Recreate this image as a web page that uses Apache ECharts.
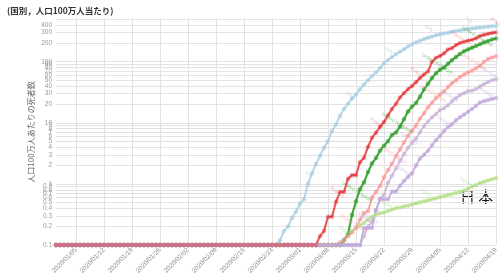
<!DOCTYPE html>
<html><head><meta charset="utf-8">
<script src="https://cdn.jsdelivr.net/npm/echarts@6/dist/echarts.min.js"></script>
<style>html,body{margin:0;padding:0;background:#fff}#c{width:500px;height:277px}</style>
</head><body><div id="c"></div>
<script>
// categories: 2019/12/31 .. 2020/04/19 (daily)
const monthDays = [["2020/01", 31], ["2020/02", 29], ["2020/03", 31], ["2020/04", 19]];
const dates = ["2019/12/31"];
for (const [m, n] of monthDays) {
  for (let d = 1; d <= n; d++) dates.push(m + "/" + String(d).padStart(2, "0"));
}

// deaths per million (values below 0.1 drawn at 0.1)
const italy = [0.1,0.1,0.1,0.1,0.1,0.1,0.1,0.1,0.1,0.1, 0.1,0.1,0.1,0.1,0.1,0.1,0.1,0.1,0.1,0.1, 0.1,0.1,0.1,0.1,0.1,0.1,0.1,0.1,0.1,0.1, 0.1,0.1,0.1,0.1,0.1,0.1,0.1,0.1,0.1,0.1, 0.1,0.1,0.1,0.1,0.1,0.1,0.1,0.1,0.1,0.1, 0.1,0.1,0.1,0.1,0.1,0.1,
  0.12,0.17,0.2,0.28,0.35,0.48,0.56,1.0,1.5,2.1,2.9,3.9,5.0,7.3,9.4,13.0,16.8,20.5,25,29,35.5,42.5,49.5,58.5,67,79,94,107,119,133,146,160,177,193,207,220,234,246,258,270,281,290,299,308,317,326,334,342,349,356,362,368,374,380,385];
const japan = [0.1,0.1,0.1,0.1,0.1,0.1,0.1,0.1,0.1,0.1, 0.1,0.1,0.1,0.1,0.1,0.1,0.1,0.1,0.1,0.1, 0.1,0.1,0.1,0.1,0.1,0.1,0.1,0.1,0.1,0.1, 0.1,0.1,0.1,0.1,0.1,0.1,0.1,0.1,0.1,0.1, 0.1,0.1,0.1,0.1,0.1,0.1,0.1,0.1,0.1,0.1, 0.1,0.1,0.1,0.1,0.1,0.1,0.1,0.1,0.1,0.1, 0.1,0.1,0.1,0.1,0.1,0.1,0.1,0.1,0.1,0.1, 0.1,0.1,
  0.12,0.15,0.17,0.19,0.21,0.23,0.26,0.29,0.31,0.33,0.34,0.36,0.38,0.40,0.41,0.43,0.44,0.46,0.48,0.50,0.52,0.54,0.56,0.58,0.61,0.63,0.66,0.68,0.71,0.74,0.78,0.84,0.90,0.96,1.03,1.08,1.14,1.19,1.25];
const uk = [0.1,0.1,0.1,0.1,0.1,0.1,0.1,0.1,0.1,0.1, 0.1,0.1,0.1,0.1,0.1,0.1,0.1,0.1,0.1,0.1, 0.1,0.1,0.1,0.1,0.1,0.1,0.1,0.1,0.1,0.1, 0.1,0.1,0.1,0.1,0.1,0.1,0.1,0.1,0.1,0.1, 0.1,0.1,0.1,0.1,0.1,0.1,0.1,0.1,0.1,0.1, 0.1,0.1,0.1,0.1,0.1,0.1,0.1,0.1,0.1,0.1, 0.1,0.1,0.1,0.1,0.1,0.1,0.1,0.1,0.1,0.1, 0.1,0.1,
  0.12,0.15,0.31,0.52,0.82,1.06,1.56,2.16,2.65,3.49,4.21,5.01,6.32,6.96,8.65,11.4,15.3,18.4,21.1,26.8,35.2,43.7,54.0,64.6,73.9,80.4,92.2,106,119,134,148,159,170,181,193,206,218,231,240];
const us = [0.1,0.1,0.1,0.1,0.1,0.1,0.1,0.1,0.1,0.1, 0.1,0.1,0.1,0.1,0.1,0.1,0.1,0.1,0.1,0.1, 0.1,0.1,0.1,0.1,0.1,0.1,0.1,0.1,0.1,0.1, 0.1,0.1,0.1,0.1,0.1,0.1,0.1,0.1,0.1,0.1, 0.1,0.1,0.1,0.1,0.1,0.1,0.1,0.1,0.1,0.1, 0.1,0.1,0.1,0.1,0.1,0.1,0.1,0.1,0.1,0.1, 0.1,0.1,0.1,0.1,0.1,0.1,0.1,0.1,0.1,0.1, 0.1,
  0.11,0.12,0.14,0.16,0.19,0.26,0.33,0.36,0.60,0.74,0.93,1.29,1.67,2.13,2.85,3.65,4.78,6.12,7.45,9.0,11.7,14.4,17.9,21.4,25.4,29.1,32.6,38.4,44.4,49.8,56.2,61.8,66.5,71.1,78.0,85.6,99.4,111,117,123];
const germany = [0.1,0.1,0.1,0.1,0.1,0.1,0.1,0.1,0.1,0.1, 0.1,0.1,0.1,0.1,0.1,0.1,0.1,0.1,0.1,0.1, 0.1,0.1,0.1,0.1,0.1,0.1,0.1,0.1,0.1,0.1, 0.1,0.1,0.1,0.1,0.1,0.1,0.1,0.1,0.1,0.1, 0.1,0.1,0.1,0.1,0.1,0.1,0.1,0.1,0.1,0.1, 0.1,0.1,0.1,0.1,0.1,0.1,0.1,0.1,0.1,0.1, 0.1,0.1,0.1,0.1,0.1,0.1,0.1,0.1,0.1,0.1, 0.1,0.1,0.1,0.1,0.1,0.1,0.1,
  0.14,0.2,0.24,0.37,0.57,0.66,1.04,1.37,1.79,2.38,3.05,3.91,4.69,5.48,7.02,8.82,10.5,12.3,13.9,16.2,17.3,19.4,22.4,25.4,28.6,30.6,33.0,33.7,35.8,39.2,43.0,46.6,49.5,51.7];
const norway = [0.1,0.1,0.1,0.1,0.1,0.1,0.1,0.1,0.1,0.1, 0.1,0.1,0.1,0.1,0.1,0.1,0.1,0.1,0.1,0.1, 0.1,0.1,0.1,0.1,0.1,0.1,0.1,0.1,0.1,0.1, 0.1,0.1,0.1,0.1,0.1,0.1,0.1,0.1,0.1,0.1, 0.1,0.1,0.1,0.1,0.1,0.1,0.1,0.1,0.1,0.1, 0.1,0.1,0.1,0.1,0.1,0.1,0.1,0.1,0.1,0.1, 0.1,0.1,0.1,0.1,0.1,0.1,0.1,0.1,0.1,0.1, 0.1,0.1,0.1,0.1,0.1,0.1,0.1,
  0.19,0.19,0.19,0.37,0.56,0.56,0.56,0.75,0.75,0.93,1.12,1.3,1.5,2.0,2.6,3.0,3.5,4.3,5.2,6.1,7.3,8.5,9.5,11.0,12.3,13.6,15.1,16.9,19.0,21.5,22.7,23.6,24.6,25.5];
const france = [0.1,0.1,0.1,0.1,0.1,0.1,0.1,0.1,0.1,0.1, 0.1,0.1,0.1,0.1,0.1,0.1,0.1,0.1,0.1,0.1, 0.1,0.1,0.1,0.1,0.1,0.1,0.1,0.1,0.1,0.1, 0.1,0.1,0.1,0.1,0.1,0.1,0.1,0.1,0.1,0.1, 0.1,0.1,0.1,0.1,0.1,0.1,0.1,0.1,0.1,0.1, 0.1,0.1,0.1,0.1,0.1,0.1,0.1,0.1,0.1,0.1, 0.1,0.1,0.1,0.1,0.1,0.1,
  0.14,0.17,0.29,0.29,0.51,0.74,0.74,1.21,1.39,1.39,2.27,2.68,4.04,5.7,6.9,8.6,10.3,13.2,16.9,20.4,26.0,30.6,35.5,39.9,46.3,54.0,61.8,69.0,99.7,116,124,137,158,167,187,202,212,221,229,241,263,275,286,296,302];

const seriesNames = ["Italy", "Japan", "United Kingdom", "United States", "Germany", "Norway", "France"];
const seriesData = [italy, japan, uk, us, germany, norway, france];
const yTicks = [0.1,0.2,0.3,0.4,0.5,0.6,0.7,0.8,0.9,1,2,3,4,5,6,7,8,9,10,20,30,40,50,60,70,80,90,100,200,300,400,500];

const styles = [
  {color: "#a6cee3", width: 1.8, off: 3, lo: 0.9, so: 0.6},
  {color: "#b2df8a", width: 1.8, off: 2, lo: 0.9, so: 0.6},
  {color: "#33a02c", width: 2.2, off: 5, lo: 0.9, so: 0.6},
  {color: "#fb9a99", width: 1.8, off: 4, lo: 0.9, so: 0.6},
  {color: "#cab2d6", width: 1.8, off: 8, lo: 0.9, so: 0.6},
  {color: "#c0a6da", width: 1.8, off: 7, lo: 0.9, so: 0.6},
  {color: "#e31a1c", width: 2.2, off: 0, lo: 0.7, so: 0.35}
];

const tickEvery = (idx) => (idx - 5) % 7 === 0;

const chart = echarts.init(document.getElementById("c"), null, {renderer: "canvas"});
chart.setOption({
  animation: false,
  backgroundColor: "#fff",
  title: {
    text: "(国別，人口100万人当たり)", left: 2, top: 2,
    textStyle: {fontSize: 8.5, fontWeight: "bold", color: "#333", fontFamily: "'Noto Sans CJK JP', sans-serif"}
  },
  grid: {left: 56, right: 4, top: 19, bottom: 32, containLabel: false, outerBoundsMode: "none"},
  xAxis: {
    type: "category", data: dates, boundaryGap: false,
    axisLine: {show: false}, axisTick: {show: false},
    axisLabel: {interval: tickEvery, rotate: 45, fontSize: 6.5, color: "#8c8c8c", margin: 4},
    splitLine: {show: true, interval: tickEvery, lineStyle: {color: "#e2e2e2", width: 1}}
  },
  yAxis: {
    type: "log", logBase: 10, min: 0.1, max: 500,
    name: "人口100万人あたりの死者数", nameLocation: "middle", nameGap: 21, nameRotate: 90,
    nameMoveOverlap: false,
    nameTextStyle: {fontSize: 8, color: "#666", fontFamily: "'Noto Sans CJK JP', sans-serif"},
    axisLine: {show: false},
    axisTick: {show: false, customValues: yTicks},
    axisLabel: {customValues: yTicks, fontSize: 6.5, color: "#9a9a9a", margin: 4,
      formatter: (v) => String(+Number(v).toPrecision(3))},
    splitLine: {show: true, lineStyle: {color: "#e2e2e2", width: 1}}
  },
  graphic: [{
    type: "text", left: 460, top: 189,
    style: {text: "日 本", fontSize: 15, fill: "#111", fontFamily: "'Noto Sans CJK JP', serif"}
  }],
  series: seriesNames.map((name, k) => ({
    name, type: "line", data: seriesData[k],
    symbol: "circle", symbolSize: 4, showSymbol: true, showAllSymbol: true,
    lineStyle: {color: styles[k].color, width: styles[k].width, opacity: styles[k].lo},
    itemStyle: {color: styles[k].color, opacity: styles[k].so, borderColor: styles[k].color, borderWidth: 0.6},
    label: {
      show: true, position: "top", distance: 5, rotate: -32, fontSize: 5,
      color: styles[k].color,
      formatter: (p) => ((p.dataIndex - styles[k].off) % 10 === 0 && p.value > 0.1) ? name : ""
    },
    labelLayout: {hideOverlap: false},
    emphasis: {disabled: true}
  }))
});
</script></body></html>
